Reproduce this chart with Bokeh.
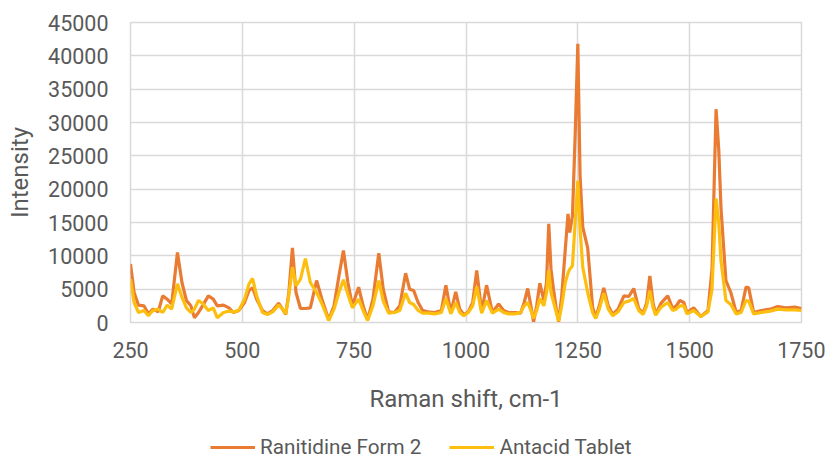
from bokeh.plotting import figure
from bokeh.layouts import column
from bokeh.models import Range1d, FixedTicker, Legend, LegendItem, ColumnDataSource
from bokeh.embed import file_html
from bokeh.resources import INLINE

raman_shift = [250, 258, 268, 280, 290, 300, 312, 322, 332, 342, 355, 365, 375, 385, 393, 402, 412, 424, 435, 444,
               458, 470, 480, 492, 505, 515, 523, 532, 545, 556, 568, 581, 590, 597, 604, 612, 620, 630, 641, 652,
               666, 678, 693, 705, 716, 726, 736, 746, 760, 770, 780, 792, 805, 815, 827, 840, 852, 865, 874, 883,
               893, 903, 915, 930, 945, 955, 966, 977, 986, 995, 1005, 1015, 1024, 1035, 1046, 1059, 1073, 1084, 1095, 1110,
               1122, 1130, 1138, 1145, 1151, 1158, 1165, 1174, 1180, 1185, 1190, 1196, 1202, 1207, 1214, 1222, 1228, 1232, 1238, 1244,
               1250, 1255, 1261, 1272, 1283, 1290, 1298, 1308, 1318, 1328, 1340, 1353, 1364, 1375, 1386, 1396, 1404, 1411, 1418, 1424,
               1436, 1451, 1462, 1470, 1478, 1487, 1494, 1509, 1525, 1541, 1550, 1559, 1565, 1570, 1581, 1592, 1604, 1615, 1626, 1632,
               1643, 1660, 1680, 1697, 1715, 1735, 1750]

ranitidine_form2 = [8800, 4500, 2600, 2500, 1300, 2000, 1600, 4000, 3500, 2800, 10500, 6000, 3300, 2500, 700, 1500, 2600, 4000, 3500, 2500,
                    2600, 2200, 1500, 1800, 3000, 4800, 5200, 3500, 1800, 1300, 1800, 2900, 2000, 1200, 4500, 11200, 4500, 2100, 2100, 2200,
                    6300, 3500, 400, 2500, 7000, 10800, 6000, 2500, 5300, 2500, 400, 3500, 10400, 5000, 1600, 1500, 2500, 7400, 5000, 4800,
                    3000, 1800, 1600, 1500, 1800, 5600, 1500, 4600, 2000, 1200, 1600, 3000, 7800, 1600, 5600, 1500, 2800, 1800, 1500, 1500,
                    1400, 3000, 5100, 2500, 100, 2500, 5900, 3300, 6000, 14800, 8000, 4800, 2000, 100, 4000, 11000, 16300, 13500, 16000, 28000,
                    41800, 22000, 14300, 11200, 2300, 800, 2500, 5200, 2500, 1200, 2000, 4000, 3900, 5100, 2100, 1400, 3000, 7000, 3000, 1200,
                    2900, 4000, 2100, 2500, 3300, 3000, 1500, 2200, 900, 1800, 8000, 32000, 26000, 17200, 6300, 4500, 1500, 1800, 5300, 5200,
                    1500, 1800, 2000, 2400, 2200, 2300, 2100]

antacid_tablet = [6500, 3000, 1500, 1800, 1000, 1800, 2000, 1500, 2600, 2000, 5800, 3800, 2200, 1500, 2000, 3300, 2800, 1800, 2200, 700,
                  1500, 1700, 1600, 1800, 3500, 5800, 6600, 4000, 1500, 1200, 1600, 2600, 2000, 1300, 4000, 8300, 5500, 6500, 9600, 6000,
                  4500, 2800, 300, 2000, 4500, 6400, 4200, 2200, 3500, 1800, 300, 2500, 6300, 3200, 1400, 1500, 1800, 4400, 3000, 2700,
                  1800, 1400, 1400, 1300, 1500, 3600, 1300, 3000, 1500, 1000, 1500, 2500, 5400, 1400, 3300, 1400, 2000, 1500, 1300, 1300,
                  1500, 2500, 3000, 1800, 600, 1800, 3600, 2500, 4500, 7800, 4500, 3000, 1500, 200, 2500, 6000, 7400, 8000, 8500, 15000,
                  21300, 14000, 8300, 4500, 1500, 600, 2000, 4400, 2000, 1000, 1600, 3000, 3200, 3600, 1800, 1200, 2500, 4800, 2300, 1100,
                  2300, 3000, 1800, 2000, 2500, 2500, 1300, 1800, 900, 1600, 5000, 18600, 15000, 9300, 3300, 2700, 1300, 1500, 3300, 3200,
                  1300, 1500, 1700, 2000, 1900, 1900, 1800]

x_ticks = [250, 500, 750, 1000, 1250, 1500, 1750]
y_ticks = [0, 5000, 10000, 15000, 20000, 25000, 30000, 35000, 40000, 45000]
series_names = ["Ranitidine Form 2", "Antacid Tablet"]
series_colors = ["#E97B32", "#FDBF0F"]

FONT = "Roboto"
TXT = "#595959"
GRID = "#D9D9D9"

src = ColumnDataSource(dict(x=raman_shift, r=ranitidine_form2, a=antacid_tablet))

p = figure(width=825, height=435, output_backend="svg", toolbar_location=None,
           x_range=Range1d(250, 1750), y_range=Range1d(0, 45000),
           min_border_left=130, min_border_right=24, min_border_top=22, min_border_bottom=113)

p.line("x", "r", source=src, line_color=series_colors[0], line_width=3.2)
p.line("x", "a", source=src, line_color=series_colors[1], line_width=3.2)

p.outline_line_color = GRID
p.outline_line_width = 1.5
p.background_fill_color = "white"
p.border_fill_color = "white"

p.xaxis.ticker = FixedTicker(ticks=x_ticks)
p.yaxis.ticker = FixedTicker(ticks=y_ticks)
for ax in (p.xaxis, p.yaxis):
    ax.axis_line_color = None
    ax.major_tick_line_color = None
    ax.minor_tick_line_color = None
    ax.major_tick_out = 0
    ax.major_tick_in = 0
    ax.major_label_text_font = FONT
    ax.major_label_text_font_size = "21.5px"
    ax.major_label_text_color = TXT
    ax.axis_label_text_font = FONT
    ax.axis_label_text_font_size = "24px"
    ax.axis_label_text_color = TXT
    ax.axis_label_text_font_style = "normal"

p.xaxis.axis_label = "Raman shift, cm-1"
p.yaxis.axis_label = "Intensity"
p.xaxis.major_label_standoff = 19
p.yaxis.major_label_standoff = 22
p.xaxis.axis_label_standoff = 24
p.yaxis.axis_label_standoff = 11

p.xgrid.ticker = FixedTicker(ticks=x_ticks)
p.ygrid.ticker = FixedTicker(ticks=y_ticks)
p.xgrid.grid_line_color = GRID
p.ygrid.grid_line_color = GRID
p.xgrid.grid_line_width = 1.5
p.ygrid.grid_line_width = 1.5

# legend strip below the chart (its lines are drawn outside the visible range)
lg = figure(width=825, height=24, output_backend="svg", toolbar_location=None,
            x_range=Range1d(250, 1750), y_range=Range1d(-2000, -1000),
            x_axis_type=None, y_axis_type=None,
            min_border_left=0, min_border_right=0, min_border_top=0, min_border_bottom=0)
lg.outline_line_color = None
lg.grid.visible = False
l1 = lg.line("x", "r", source=src, line_color=series_colors[0], line_width=3.2)
l2 = lg.line("x", "a", source=src, line_color=series_colors[1], line_width=3.2)

legend = Legend(items=[LegendItem(label=series_names[0], renderers=[l1]),
                       LegendItem(label=series_names[1], renderers=[l2])],
                location=(80, 0), orientation="horizontal",
                label_text_font=FONT, label_text_font_size="20.7px", label_text_color=TXT,
                glyph_width=45, glyph_height=22, label_standoff=5, spacing=28,
                padding=0, margin=0, border_line_color=None, background_fill_alpha=0)
lg.add_layout(legend, "center")

layout = column(p, lg, spacing=0)
open("out.html", "w").write(file_html(layout, INLINE))
